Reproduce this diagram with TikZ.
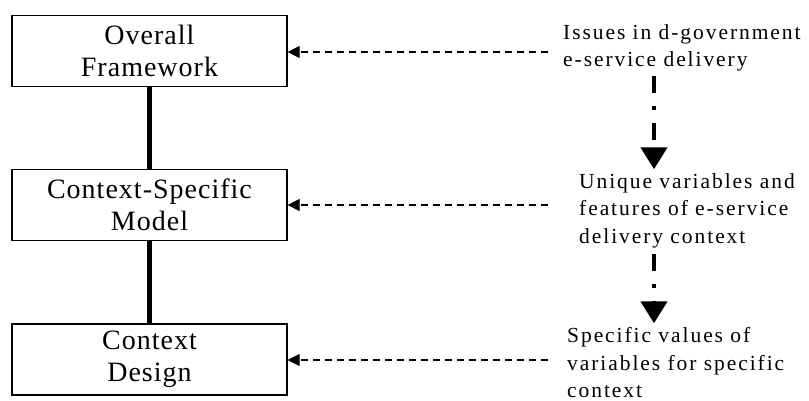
\documentclass[tikz,border=0pt]{standalone}
\usepackage{fontspec}
\setmainfont{Liberation Serif}
\usetikzlibrary{arrows.meta}
\begin{document}
\begin{tikzpicture}[x=1pt,y=-1pt,
  box/.style={draw, line width=1.2pt, minimum width=275pt, minimum height=71pt,
    inner sep=0pt, align=center,
    font=\fontsize{28}{32}\selectfont\addfontfeatures{LetterSpace=3.6}},
  note/.style={anchor=north west, inner sep=0pt, align=left,
    font=\fontsize{21.5}{27.5}\selectfont\addfontfeatures{LetterSpace=9}},
  link/.style={line width=4.5pt},
  feed/.style={line width=1.2pt, dash pattern=on 7pt off 5pt,
    -{Triangle[width=12pt,length=12pt]}},
  flow/.style={line width=4.5pt, dash pattern=on 17pt off 13pt on 4pt off 13pt,
    -{Triangle[width=26pt,length=22pt]}}
]
\useasboundingbox (0,0) rectangle (809,401);
\node[box] (b1) at (149.5,51) {Overall\\Framework};
\node[box] (b2) at (149.5,205) {Context-Specific\\Model};
\node[box] (b3) at (149.5,359.5) {Context\\Design};
\draw[link] (b1.south) -- (b2.north);
\draw[link] (b2.south) -- (b3.north);
\node[note] (t1) at (563,24.3) {Issues in d-government\\e-service delivery};
\node[note] (t2) at (579,173.3) {Unique variables and\\features of e-service\\delivery context};
\node[note] (t3) at (567,327.3) {Specific values of\\variables for specific\\context};
\coordinate (s1) at (548,52);
\coordinate (s2) at (548,205);
\coordinate (s3) at (548,360);
\coordinate (v) at (654,0);
\draw[feed] (s1) -- (b1.east |- s1);
\draw[feed] (s2) -- (b2.east |- s2);
\draw[feed] (s3) -- (b3.east |- s3);
\draw[flow, shorten <=4pt, shorten >=4pt] (t1.south -| v) -- (t2.north -| v);
\draw[flow, shorten <=6pt, shorten >=4pt] (t2.south -| v) -- (t3.north -| v);
\end{tikzpicture}
\end{document}
